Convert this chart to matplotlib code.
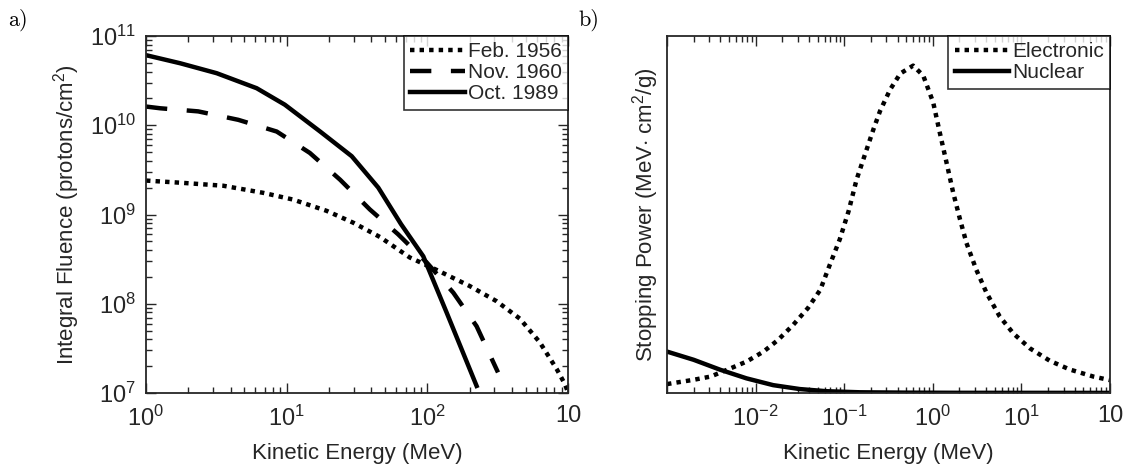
import numpy as np
import matplotlib
matplotlib.use("Agg")
import matplotlib.pyplot as plt
from matplotlib.ticker import LogLocator, NullFormatter, FixedLocator, FixedFormatter

plt.rcParams['font.family'] = ['Liberation Sans', 'DejaVu Sans']
plt.rcParams['mathtext.fontset'] = 'custom'
plt.rcParams['mathtext.rm'] = 'Liberation Sans'
plt.rcParams['mathtext.it'] = 'Liberation Sans:italic'
plt.rcParams['mathtext.bf'] = 'Liberation Sans:bold'

TXT = '#262626'

# ---- Panel a) data: integral fluence vs kinetic energy ----
feb1956_E = [1, 1.84, 3.54, 6.8, 11.1, 19.2, 29.7, 46, 75, 116, 200, 310, 455, 630, 830, 950, 1000]
feb1956_F = [2.4e9, 2.26e9, 2.1e9, 1.75e9, 1.47e9, 1.1e9, 8.1e8, 5.6e8, 3.3e8, 2.4e8,
             1.58e8, 1.07e8, 6.8e7, 3.7e7, 1.86e7, 1.26e7, 1.02e7]

nov1960_E = [1, 1.26, 2.35, 4.53, 8.5, 14.6, 24, 39, 62, 99, 153, 224, 318]
nov1960_F = [1.62e10, 1.55e10, 1.43e10, 1.15e10, 8.5e9, 4.9e9, 2.45e9, 1.14e9, 6.0e8,
             2.9e8, 1.33e8, 5.6e7, 1.7e7]

oct1989_E = [1, 1.75, 3.18, 6.12, 9.7, 17.3, 29, 44.8, 65, 93.6, 137, 224]
oct1989_F = [6.1e10, 4.95e10, 3.83e10, 2.6e10, 1.7e10, 8.5e9, 4.5e9, 2.0e9, 7.8e8,
             3.4e8, 8.0e7, 1.2e7]

series_a_labels = ['Feb. 1956', 'Nov. 1960', 'Oct. 1989']

# ---- Panel b) data: stopping power (arbitrary, linear) vs kinetic energy ----
elec_E = [0.001, 0.002, 0.0031, 0.0051, 0.0079, 0.0123, 0.018, 0.0266, 0.039, 0.0537,
          0.069, 0.089, 0.112, 0.138, 0.172, 0.214, 0.254, 0.33, 0.43, 0.60, 0.78,
          1.01, 1.2, 1.43, 1.70, 2.03, 2.4, 3.1, 4.05, 5.7, 8.1, 12.5, 21, 35, 65, 100]
elec_S = [0.025, 0.037, 0.046, 0.068, 0.088, 0.116, 0.149, 0.191, 0.238, 0.289,
          0.36, 0.43, 0.509, 0.598, 0.669, 0.739, 0.79, 0.85, 0.895, 0.917, 0.889,
          0.814, 0.729, 0.645, 0.561, 0.486, 0.42, 0.345, 0.28, 0.214, 0.167, 0.125,
          0.09, 0.066, 0.046, 0.036]

nuc_E = [0.001, 0.002, 0.004, 0.0079, 0.0158, 0.0316, 0.063, 0.15, 0.5, 2.0, 100]
nuc_S = [0.116, 0.093, 0.065, 0.041, 0.022, 0.011, 0.005, 0.002, 0.001, 0.0005, 0.0003]

series_b_labels = ['Electronic', 'Nuclear']

a_xticks = [1, 10, 100, 1000]
a_xticklabels = ['$10^{0}$', '$10^{1}$', '$10^{2}$', '10']
a_yticks = [1e7, 1e8, 1e9, 1e10, 1e11]
a_yticklabels = ['$10^{7}$', '$10^{8}$', '$10^{9}$', '$10^{10}$', '$10^{11}$']
b_xticks = [1e-3, 1e-2, 1e-1, 1, 10, 100]
b_xticklabels = ['', '$10^{-2}$', '$10^{-1}$', '$10^{0}$', '$10^{1}$', '10']

W, H = 1125, 471
fig = plt.figure(figsize=(W / 100, H / 100), dpi=100)

axA = fig.add_axes([146 / W, 1 - 393 / H, 422 / W, 357 / H])
axB = fig.add_axes([667 / W, 1 - 393 / H, 443 / W, 357 / H])

LW = 3.2
dot = (0, (1.0, 1.15))
dash = (0, (4.8, 4.4))

axA.plot(feb1956_E, feb1956_F, color='k', lw=LW, linestyle=dot, dash_capstyle='butt', label=series_a_labels[0])
axA.plot(nov1960_E, nov1960_F, color='k', lw=LW, linestyle=dash, dash_capstyle='butt', label=series_a_labels[1])
axA.plot(oct1989_E, oct1989_F, color='k', lw=LW, linestyle='-', label=series_a_labels[2])
axA.set_xscale('log')
axA.set_yscale('log')
axA.set_xlim(1, 1000)
axA.set_ylim(1e7, 1e11)
axA.xaxis.set_major_locator(FixedLocator(a_xticks))
axA.xaxis.set_major_formatter(FixedFormatter(a_xticklabels))
axA.yaxis.set_major_locator(FixedLocator(a_yticks))
axA.yaxis.set_major_formatter(FixedFormatter(a_yticklabels))
for ax in (axA.xaxis, axA.yaxis):
    ax.set_minor_locator(LogLocator(base=10, subs=np.arange(2, 10), numticks=20))
    ax.set_minor_formatter(NullFormatter())
axA.set_xlabel('Kinetic Energy (MeV)', fontsize=16, color=TXT, labelpad=9)
axA.set_ylabel('Integral Fluence (protons/cm$^2$)', fontsize=16, color=TXT, labelpad=6)

axB.plot(elec_E, elec_S, color='k', lw=LW, linestyle=dot, dash_capstyle='butt', label=series_b_labels[0])
axB.plot(nuc_E, nuc_S, color='k', lw=LW, linestyle='-', label=series_b_labels[1])
axB.set_xscale('log')
axB.set_xlim(1e-3, 100)
axB.set_ylim(0, 1)
axB.xaxis.set_major_locator(FixedLocator(b_xticks))
axB.xaxis.set_major_formatter(FixedFormatter(b_xticklabels))
axB.xaxis.set_minor_locator(LogLocator(base=10, subs=np.arange(2, 10), numticks=20))
axB.xaxis.set_minor_formatter(NullFormatter())
axB.set_yticks([])
axB.set_xlabel('Kinetic Energy (MeV)', fontsize=16, color=TXT, labelpad=9)
axB.set_ylabel('Stopping Power (MeV$\\cdot$ cm$^2$/g)', fontsize=16, color=TXT)

for ax in (axA, axB):
    for s in ax.spines.values():
        s.set_color(TXT)
        s.set_linewidth(1.3)
    ax.tick_params(which='both', direction='in', top=True, right=True, colors=TXT,
                   labelsize=17, labelcolor=TXT, width=1.0)
    ax.tick_params(which='major', length=7)
    ax.tick_params(which='minor', length=4)
    ax.tick_params(axis='x', which='major', pad=9)
    ax.tick_params(axis='y', which='major', pad=7)
    leg = ax.legend(loc='upper right', borderaxespad=0, fontsize=15, handlelength=2.6,
                    handletextpad=0.15, borderpad=0.3, labelspacing=0.1, frameon=True,
                    fancybox=False)
    leg.get_frame().set_edgecolor('k')
    leg.get_frame().set_linewidth(1.2)
    for t in leg.get_texts():
        t.set_color(TXT)

fig.text(8 / W, 1 - 20 / H, 'a)', fontsize=16, family='cmr10', va='center', ha='left')
fig.text(578 / W, 1 - 20 / H, 'b)', fontsize=16, family='cmr10', va='center', ha='left')

fig.savefig('out.png', dpi=100)
